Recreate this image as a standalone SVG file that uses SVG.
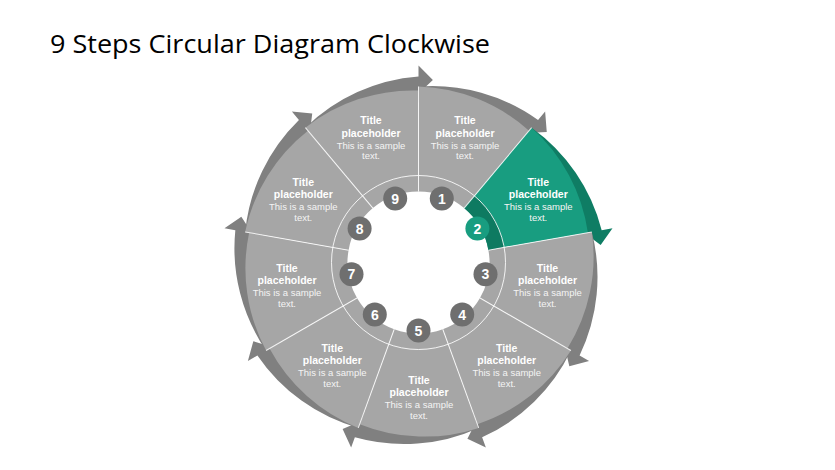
<svg xmlns="http://www.w3.org/2000/svg" xmlns:xlink="http://www.w3.org/1999/xlink" width="835" height="470" viewBox="0 0 835 470">
  <style>
    .title { font-family: "Open Sans", "Liberation Sans", sans-serif; font-size: 26px; fill: #000000; }
    .arr { fill: #808080; }
    .arr-g { fill: #0F7D64; }
    .seg { fill: #A6A6A6; }
    .seg-g { fill: #189D80; }
    .ring-g { fill: #0E7A61; }
    .t { font-family: "Liberation Sans", Arial, sans-serif; text-anchor: middle; fill: #FFFFFF; }
    .tb { font-size: 10.5px; font-weight: bold; }
    .tr { font-size: 9.5px; fill: #F4F4F4; }
    .nbg { fill: #6F6F6F; }
    .nbg-g { fill: #189D80; }
    .num { font-family: "Liberation Sans", Arial, sans-serif; font-size: 14px; font-weight: bold; fill: #FFFFFF; text-anchor: middle; }
    .div { stroke: #FFFFFF; stroke-width: 1; stroke-opacity: 0.85; fill: none; }
  </style>
  <defs>
    <path id="arrowShape" d="M0,-176 A181,181 0 0 1 119.559,-142.484 L126.629,-150.911 L128.266,-130.525 L108.631,-129.461 L102.846,-122.567 A160,160 0 0 0 0,-160 Z"/>
    <path id="segShape" d="M0,-71 L0,-176 A174,174 0 0 1 110.560,-131.760 L45.638,-54.389 A71,71 0 0 0 0,-71 Z"/>
    <path id="ringShape" d="M0,-71 L0,-87 A87,87 0 0 1 55.923,-66.646 L45.638,-54.389 A71,71 0 0 0 0,-71 Z"/>
    <line id="divLine" x1="0" y1="-71" x2="0" y2="-176"/>
  </defs>

  <rect x="0" y="0" width="835" height="470" fill="#FFFFFF"/>

  <text class="title" x="50" y="53" textLength="440" lengthAdjust="spacingAndGlyphs">9 Steps Circular Diagram Clockwise</text>

  <g id="connectors">
    <use xlink:href="#arrowShape" class="arr" transform="translate(418.5 262.5) rotate(0)"/>
    <use xlink:href="#arrowShape" class="arr-g" transform="translate(418.5 262.5) rotate(40)"/>
    <use xlink:href="#arrowShape" class="arr" transform="translate(418.5 262.5) rotate(80)"/>
    <use xlink:href="#arrowShape" class="arr" transform="translate(418.5 262.5) rotate(120)"/>
    <use xlink:href="#arrowShape" class="arr" transform="translate(418.5 262.5) rotate(160)"/>
    <use xlink:href="#arrowShape" class="arr" transform="translate(418.5 262.5) rotate(200)"/>
    <use xlink:href="#arrowShape" class="arr" transform="translate(418.5 262.5) rotate(240)"/>
    <use xlink:href="#arrowShape" class="arr" transform="translate(418.5 262.5) rotate(280)"/>
    <use xlink:href="#arrowShape" class="arr" transform="translate(418.5 262.5) rotate(320)"/>
  </g>

  <g id="step1">
    <use xlink:href="#segShape" class="seg" transform="translate(418.5 262.5) rotate(0)"/>
    <text class="t"><tspan class="tb" x="465" y="124.4">Title</tspan><tspan class="tb" x="465" y="136.7">placeholder</tspan><tspan class="tr" x="465" y="148.7">This is a sample</tspan><tspan class="tr" x="465" y="159.4">text.</tspan></text>
    <circle class="nbg" cx="441.8" cy="198.6" r="12"/>
    <text class="num" x="441.8" y="203.6">1</text>
  </g>

  <g id="step2">
    <use xlink:href="#segShape" class="seg-g" transform="translate(418.5 262.5) rotate(40)"/>
    <use xlink:href="#ringShape" class="ring-g" transform="translate(418.5 262.5) rotate(40)"/>
    <text class="t"><tspan class="tb" x="538.3" y="186">Title</tspan><tspan class="tb" x="538.3" y="198.3">placeholder</tspan><tspan class="tr" x="538.3" y="210.3">This is a sample</tspan><tspan class="tr" x="538.3" y="221">text.</tspan></text>
    <circle class="nbg-g" cx="477.4" cy="228.5" r="12"/>
    <text class="num" x="477.4" y="233.5">2</text>
  </g>

  <g id="step3">
    <use xlink:href="#segShape" class="seg" transform="translate(418.5 262.5) rotate(80)"/>
    <text class="t"><tspan class="tb" x="547.5" y="272">Title</tspan><tspan class="tb" x="547.5" y="284.3">placeholder</tspan><tspan class="tr" x="547.5" y="296.3">This is a sample</tspan><tspan class="tr" x="547.5" y="307">text.</tspan></text>
    <circle class="nbg" cx="485.5" cy="274.3" r="12"/>
    <text class="num" x="485.5" y="279.3">3</text>
  </g>

  <g id="step4">
    <use xlink:href="#segShape" class="seg" transform="translate(418.5 262.5) rotate(120)"/>
    <text class="t"><tspan class="tb" x="506.7" y="352">Title</tspan><tspan class="tb" x="506.7" y="364.3">placeholder</tspan><tspan class="tr" x="506.7" y="376.3">This is a sample</tspan><tspan class="tr" x="506.7" y="387">text.</tspan></text>
    <circle class="nbg" cx="462.2" cy="314.6" r="12"/>
    <text class="num" x="462.2" y="319.6">4</text>
  </g>

  <g id="step5">
    <use xlink:href="#segShape" class="seg" transform="translate(418.5 262.5) rotate(160)"/>
    <text class="t"><tspan class="tb" x="419" y="383.7">Title</tspan><tspan class="tb" x="419" y="396">placeholder</tspan><tspan class="tr" x="419" y="408">This is a sample</tspan><tspan class="tr" x="419" y="418.7">text.</tspan></text>
    <circle class="nbg" cx="418.5" cy="330.5" r="12"/>
    <text class="num" x="418.5" y="335.5">5</text>
  </g>

  <g id="step6">
    <use xlink:href="#segShape" class="seg" transform="translate(418.5 262.5) rotate(200)"/>
    <text class="t"><tspan class="tb" x="332.3" y="352">Title</tspan><tspan class="tb" x="332.3" y="364.3">placeholder</tspan><tspan class="tr" x="332.3" y="376.3">This is a sample</tspan><tspan class="tr" x="332.3" y="387">text.</tspan></text>
    <circle class="nbg" cx="374.8" cy="314.6" r="12"/>
    <text class="num" x="374.8" y="319.6">6</text>
  </g>

  <g id="step7">
    <use xlink:href="#segShape" class="seg" transform="translate(418.5 262.5) rotate(240)"/>
    <text class="t"><tspan class="tb" x="287" y="272">Title</tspan><tspan class="tb" x="287" y="284.3">placeholder</tspan><tspan class="tr" x="287" y="296.3">This is a sample</tspan><tspan class="tr" x="287" y="307">text.</tspan></text>
    <circle class="nbg" cx="351.5" cy="274.3" r="12"/>
    <text class="num" x="351.5" y="279.3">7</text>
  </g>

  <g id="step8">
    <use xlink:href="#segShape" class="seg" transform="translate(418.5 262.5) rotate(280)"/>
    <text class="t"><tspan class="tb" x="303.3" y="186">Title</tspan><tspan class="tb" x="303.3" y="198.3">placeholder</tspan><tspan class="tr" x="303.3" y="210.3">This is a sample</tspan><tspan class="tr" x="303.3" y="221">text.</tspan></text>
    <circle class="nbg" cx="359.6" cy="228.5" r="12"/>
    <text class="num" x="359.6" y="233.5">8</text>
  </g>

  <g id="step9">
    <use xlink:href="#segShape" class="seg" transform="translate(418.5 262.5) rotate(320)"/>
    <text class="t"><tspan class="tb" x="371" y="124.4">Title</tspan><tspan class="tb" x="371" y="136.7">placeholder</tspan><tspan class="tr" x="371" y="148.7">This is a sample</tspan><tspan class="tr" x="371" y="159.4">text.</tspan></text>
    <circle class="nbg" cx="395.2" cy="198.6" r="12"/>
    <text class="num" x="395.2" y="203.6">9</text>
  </g>

  <g id="dividers" class="div">
    <circle cx="418.5" cy="262.5" r="87"/>
    <use xlink:href="#divLine" transform="translate(418.5 262.5) rotate(0)"/>
    <use xlink:href="#divLine" transform="translate(418.5 262.5) rotate(40)"/>
    <use xlink:href="#divLine" transform="translate(418.5 262.5) rotate(80)"/>
    <use xlink:href="#divLine" transform="translate(418.5 262.5) rotate(120)"/>
    <use xlink:href="#divLine" transform="translate(418.5 262.5) rotate(160)"/>
    <use xlink:href="#divLine" transform="translate(418.5 262.5) rotate(200)"/>
    <use xlink:href="#divLine" transform="translate(418.5 262.5) rotate(240)"/>
    <use xlink:href="#divLine" transform="translate(418.5 262.5) rotate(280)"/>
    <use xlink:href="#divLine" transform="translate(418.5 262.5) rotate(320)"/>
  </g>
</svg>
